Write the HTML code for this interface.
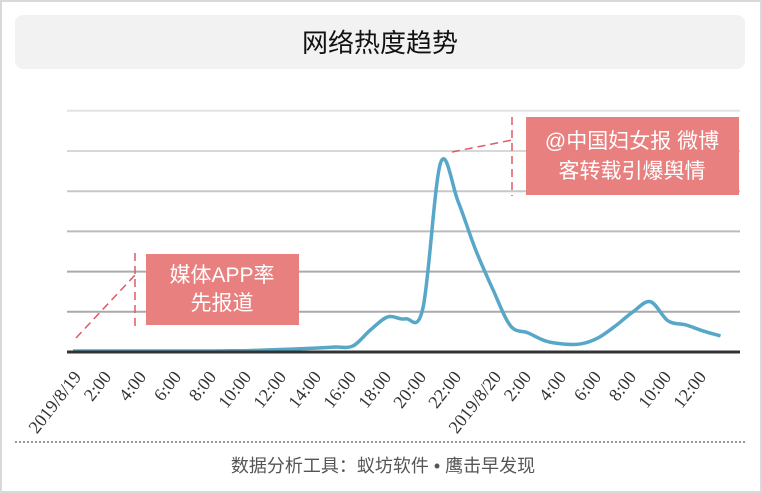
<!DOCTYPE html>
<html><head><meta charset="utf-8"><style>
body{margin:0;background:#fff;}
svg{display:block;font-family:"Liberation Sans","Noto Sans CJK SC",sans-serif;}
</style></head><body>
<svg id="chart" width="762" height="493" viewBox="0 0 762 493">
<rect x="1" y="1" width="760" height="491" fill="#fff" stroke="#d9d9d9" stroke-width="2"/>
<rect x="15" y="15" width="730" height="54" rx="8" fill="#f2f2f2"/>
<text x="380" y="52" text-anchor="middle" font-size="26" fill="#111">网络热度趋势</text>
<g id="grid"></g>
<g id="xlabels"></g>
<g id="annot">
<rect x="146" y="254" width="153" height="71" fill="#e98080"/>
<text x="222" y="282" text-anchor="middle" font-size="21" fill="#fff">媒体APP率</text>
<text x="222" y="310" text-anchor="middle" font-size="21" fill="#fff">先报道</text>
<line x1="135" y1="253" x2="135" y2="326" stroke="#e05a63" stroke-width="1.5" stroke-dasharray="8,5"/>
<line x1="76" y1="338" x2="135" y2="275" stroke="#e05a63" stroke-width="1.5" stroke-dasharray="8,5"/>
<rect x="526" y="117" width="213" height="78" fill="#e98080"/>
<text x="632" y="148" text-anchor="middle" font-size="21" fill="#fff">@中国妇女报 微博</text>
<text x="632" y="178" text-anchor="middle" font-size="21" fill="#fff">客转载引爆舆情</text>
<line x1="512" y1="117" x2="512" y2="196" stroke="#e05a63" stroke-width="1.5" stroke-dasharray="8,5"/>
<line x1="452" y1="152" x2="512" y2="140" stroke="#e05a63" stroke-width="1.5" stroke-dasharray="8,5"/>
</g>
<path id="line" fill="none" stroke="#57a7c9" stroke-width="3.5" stroke-linejoin="round"/>
<line x1="67" y1="352" x2="740" y2="352" stroke="#333" stroke-width="3"/>
<line x1="15" y1="442" x2="745" y2="442" stroke="#777" stroke-width="1.5" stroke-dasharray="2,2"/>
<text x="383" y="472" text-anchor="middle" font-size="18" fill="#555">数据分析工具：蚁坊软件 • 鹰击早发现</text>
</svg>
<script>
const hours=[0,1,2,3,4,5,6,7,8,9,10,11,12,13,14,15,16,17,18,19,20,21,22,23,24,25,26,27,28,29,30,31,32,33,34,35,36,37];
const values=[0.5,0.5,0.5,0.5,0.5,0.5,0.5,0.5,0.5,0.6,0.7,1,1.3,1.6,2,2.5,3,11,17.5,16.5,22,94,75,51,31,13,9.5,5.5,4,4,7,13,20,25,15.5,13.5,10.5,8];
const gridValues=[20,40,60,80,100,120];
const tickHours=[0,2,4,6,8,10,12,14,16,18,20,22,24,26,28,30,32,34,36];
const tickLabels=["2019/8/19","2:00","4:00","6:00","8:00","10:00","12:00","14:00","16:00","18:00","20:00","22:00","2019/8/20","2:00","4:00","6:00","8:00","10:00","12:00"];
const NS="http://www.w3.org/2000/svg";
function xs(h){return 73+h*17.5;}
function ys(v){return 352-v*2.01;}
const grid=document.getElementById('grid');
const gcol=['#aaa','#aaa','#bbb','#c8c8c8','#d8d8d8','#e3e3e3'];
gridValues.forEach((g,i)=>{
 const l=document.createElementNS(NS,'line');
 l.setAttribute('x1',67);l.setAttribute('x2',740);
 l.setAttribute('y1',ys(g));l.setAttribute('y2',ys(g));
 l.setAttribute('stroke',gcol[i]);l.setAttribute('stroke-width',2);
 
 
 grid.appendChild(l);
});
const xl=document.getElementById('xlabels');
tickHours.forEach((h,i)=>{
 const t=document.createElementNS(NS,'text');
 const lab=tickLabels[i];
 const x=xs(h)+(lab.length>6?9:4), y=377;
 t.setAttribute('x',x);t.setAttribute('y',y);
 t.setAttribute('text-anchor','end');
 t.setAttribute('font-size','18');t.setAttribute('fill','#333');
 t.setAttribute('font-family','"Liberation Serif",serif');
 t.setAttribute('transform','rotate(-52 '+x+' '+y+')');
 t.textContent=lab;
 
 
 xl.appendChild(t);
});
const pts=hours.map((h,i)=>[xs(h),ys(values[i])]);
let d='M'+pts[0][0]+','+pts[0][1];
for(let i=0;i<pts.length-1;i++){
 const p0=pts[Math.max(i-1,0)],p1=pts[i],p2=pts[i+1],p3=pts[Math.min(i+2,pts.length-1)];
 let c1y=p1[1]+(p2[1]-p0[1])/6, c2y=p2[1]-(p3[1]-p1[1])/6;
 c1y=Math.min(c1y,352);c2y=Math.min(c2y,352);
 d+=' C'+(p1[0]+(p2[0]-p0[0])/6)+','+c1y+' '+(p2[0]-(p3[0]-p1[0])/6)+','+c2y+' '+p2[0]+','+p2[1];
}
document.getElementById('line').setAttribute('d',d);
</script>
</body></html>
